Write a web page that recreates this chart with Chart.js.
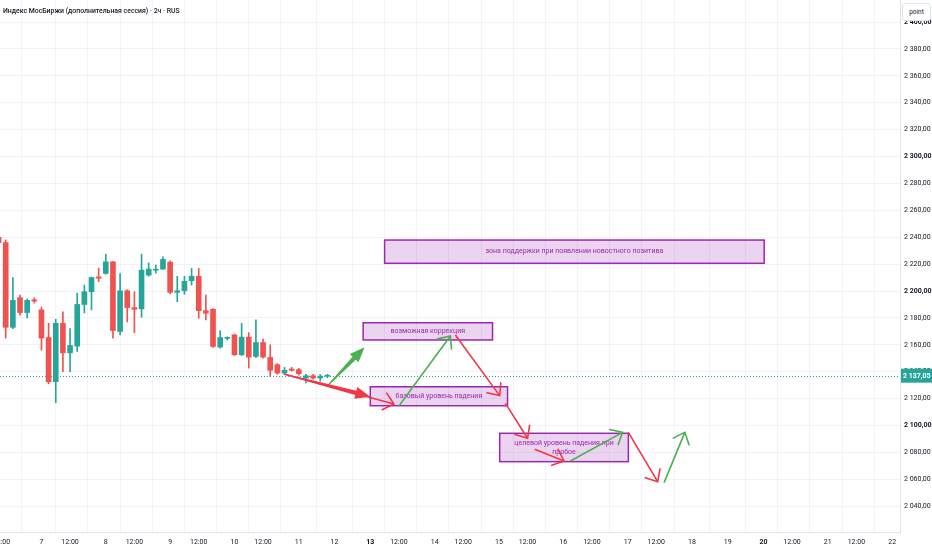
<!DOCTYPE html>
<html><head><meta charset="utf-8">
<script src="https://cdn.jsdelivr.net/npm/chart.js@4.4.0/dist/chart.umd.min.js"></script>
<style>
html,body{margin:0;padding:0;background:#fff;}
#wrap{position:relative;width:932px;height:550px;overflow:hidden;}
#title{position:absolute;left:3px;top:7px;font:500 6.9px Roboto,sans-serif;color:#131722;white-space:nowrap;}
#unit{position:absolute;left:902px;top:3px;width:27px;height:16px;border:1px solid #e0e3eb;border-radius:3px;background:#fff;font:400 6.5px Roboto,sans-serif;color:#131722;text-align:center;line-height:16px;}
</style></head>
<body><div id="wrap"><canvas id="c"></canvas><div id="title">Индекс МосБиржи (дополнительная сессия) · 2ч · RUS</div><div id="unit">point</div></div>
<script>
// ---- data (x = 2h candle slot, y = index points) ----
const firstSlot = -1;
const opens  = [2240,2236,2173,2195,2184,2193.5,2186,2165.4,2132.6,2176,2154,2159,2190,2199.5,2210.5,2213,2221.7,2169.9,2200.2,2187.7,2186.7,2211.8,2215.5,2216.3,2221.5,2199,2200.2,2207.7,2211,2185.4,2186.4,2158.3,2164.8,2167.4,2152.6,2165.7,2151.4,2161.7,2150.6,2145.2,2139,2142,2141.5,2135.3,2137,2135.3,2136.6];
const highs  = [2242,2238,2210,2197,2194,2195,2188,2176,2179,2184.5,2172,2198.5,2204.4,2210.5,2217,2227.4,2222,2213,2201,2199.5,2227.4,2220.9,2219.3,2225.4,2222.5,2211,2211,2216.8,2216.8,2197,2187,2170.6,2166,2168,2176,2169,2178.5,2164.2,2160,2146,2143.2,2143.2,2142.5,2138,2138,2138,2138];
const lows   = [2234,2165,2172,2182,2180,2191,2156,2131,2117,2140,2140,2155,2183.7,2186,2207,2212.5,2165,2167.4,2177,2169,2180.5,2211,2213.3,2216,2198,2192,2197.5,2204.4,2179.7,2178.5,2158,2157.5,2163.5,2152,2152,2142.7,2150.5,2150,2136.5,2138,2138.5,2140.5,2137.5,2131.6,2134.5,2133,2135.5];
const closes = [2236,2173,2193,2184,2193,2192.5,2165,2132.6,2176,2154,2159.5,2190,2199.5,2210,2209.5,2221.7,2170.6,2200.2,2187.7,2186.4,2215.5,2216.3,2216.2,2223.5,2199,2200.2,2207.2,2211,2185.4,2183.5,2158.8,2165.4,2165.2,2152.6,2165.7,2150.9,2161.7,2150.9,2141,2139,2141,2141,2138.5,2137,2135.3,2136.7,2137.05];
const lastPrice = 2137.05;

const tickSlots  = [-0.6,5,9,14,18,23,27,32,36,41,46,51,55,60,64,69,73,78,82,87,91,96,101,106,110,115,119,124];
const tickLabels = ['12:00','7','12:00','8','12:00','9','12:00','10','12:00','11','12','13','12:00','14','12:00','15','12:00','16','12:00','17','12:00','18','19','20','12:00','21','12:00','22'];
const boldTickLabels = ['13','20'];

// annotation boxes (slot / price)
const boxTexts  = ['зона поддержки при появлении новостного позитива','возможная коррекция','базовый уровень падения','целевой уровень падения при\nпробое'];
const boxStart  = [53.0, 50.0, 51.0, 69.1];
const boxEnd    = [106.1, 68.1, 70.2, 87.1];
const boxTop    = [2237.9, 2176.4, 2128.8, 2094.2];
const boxBottom = [2220.6, 2163.6, 2114.7, 2073.1];

// forecast arrows (slot / price)
const arrowKind   = ['up-bold','down-bold','down','up','down','down','down','up','down','up'];
const arrowX0 = [45.0, 38.9, 38.9, 55.0, 62.9, 69.9, 74.0, 79.0, 87.1, 92.1];
const arrowY0 = [2129.4, 2138.3, 2138.3, 2114.5, 2167.3, 2116.5, 2082.3, 2073.6, 2094.9, 2057.5];
const arrowX1 = [50.2, 51.0, 54.3, 62.2, 69.1, 73.0, 78.1, 86.3, 91.2, 95.0];
const arrowY1 = [2158.1, 2121.4, 2116.0, 2166.5, 2122.2, 2090.5, 2073.6, 2094.9, 2058.2, 2094.9];

// ---- styles ----
const UP='#26a69a', DOWN='#ef5350';
const A_UP='#4caf50', A_DOWN='#f23645';
const FONT='Roboto, sans-serif';
const candleColors = opens.map((o,i)=> closes[i]>=o ? UP : DOWN);

function fmt(v){
  const parts = v.toFixed(2).split('.');
  return parts[0].replace(/\B(?=(\d{3})+(?!\d))/g,' ') + ',' + parts[1];
}

const datasets = [
  {type:'bar', data: lows.map((l,i)=>({x:firstSlot+i, y:[l,highs[i]]})), backgroundColor: candleColors, barThickness:1, grouped:false, order:2},
  {type:'bar', data: opens.map((o,i)=>({x:firstSlot+i, y:[o,closes[i]]})), backgroundColor: candleColors, barThickness:5, grouped:false, minBarLength:1, order:1}
];
arrowKind.forEach((k,i)=>{
  const bold = k.endsWith('bold');
  datasets.push({type:'line', data:[{x:arrowX0[i],y:arrowY0[i]},{x:arrowX1[i],y:arrowY1[i]}],
    borderColor: k.startsWith('up')?A_UP:A_DOWN, borderWidth:1.6, showLine: !bold,
    pointRadius:0, pointHoverRadius:0, order:0, arrowKind:k});
});

function arrowHead(ctx,p0,p1,color,bold){
  const ang = Math.atan2(p1.y-p0.y, p1.x-p0.x);
  if(!bold){
    const L=13, s=0.72;
    ctx.strokeStyle=color; ctx.lineWidth=1.6; ctx.lineCap='round';
    ctx.beginPath();
    ctx.moveTo(p1.x-L*Math.cos(ang-s), p1.y-L*Math.sin(ang-s));
    ctx.lineTo(p1.x,p1.y);
    ctx.lineTo(p1.x-L*Math.cos(ang+s), p1.y-L*Math.sin(ang+s));
    ctx.stroke();
  } else {
    const H=15, hw=6;
    const ux=Math.cos(ang), uy=Math.sin(ang), nx=-uy, ny=ux;
    const bx=p1.x-ux*H, by=p1.y-uy*H;
    ctx.fillStyle=color;
    ctx.beginPath();
    ctx.moveTo(p0.x+nx*0.6,p0.y+ny*0.6);
    ctx.lineTo(bx+nx*2.2,by+ny*2.2);
    ctx.lineTo(bx+nx*hw,by+ny*hw);
    ctx.lineTo(p1.x,p1.y);
    ctx.lineTo(bx-nx*hw,by-ny*hw);
    ctx.lineTo(bx-nx*2.2,by-ny*2.2);
    ctx.lineTo(p0.x-nx*0.6,p0.y-ny*0.6);
    ctx.closePath(); ctx.fill();
  }
}

const overlay = {
  id:'overlay',
  beforeDatasetsDraw(chart){
    const {ctx, chartArea:a, scales:{x,y}} = chart;
    ctx.save();
    ctx.beginPath(); ctx.rect(a.left,a.top,a.right-a.left,a.bottom-a.top); ctx.clip();
    const py = Math.round(y.getPixelForValue(lastPrice))+0.5;
    ctx.setLineDash([1,2]); ctx.strokeStyle=UP; ctx.lineWidth=1;
    ctx.beginPath(); ctx.moveTo(a.left,py); ctx.lineTo(a.right,py); ctx.stroke();
    ctx.setLineDash([]);
    boxTexts.forEach((t,i)=>{
      const x0=x.getPixelForValue(boxStart[i]), x1=x.getPixelForValue(boxEnd[i]);
      const y0=y.getPixelForValue(boxTop[i]), y1=y.getPixelForValue(boxBottom[i]);
      ctx.fillStyle='rgba(156,39,176,0.2)'; ctx.fillRect(x0,y0,x1-x0,y1-y0);
      ctx.strokeStyle='#9c27b0'; ctx.lineWidth=1.5; ctx.strokeRect(x0,y0,x1-x0,y1-y0);
      ctx.fillStyle='#9c27b0'; ctx.font='7px '+FONT; ctx.textAlign='center'; ctx.textBaseline='middle';
      const lines=t.split('\n'), lh=9, cx=(x0+x1)/2, cy=(y0+y1)/2 - (lines.length-1)*lh/2;
      lines.forEach((ln,j)=>ctx.fillText(ln,cx,cy+j*lh));
    });
    ctx.restore();
  },
  afterDatasetsDraw(chart){
    const {ctx, chartArea:a, scales:{y}} = chart;
    ctx.save();
    chart.data.datasets.forEach((ds,i)=>{
      if(!ds.arrowKind) return;
      const pts=chart.getDatasetMeta(i).data;
      arrowHead(ctx,pts[0],pts[1], ds.arrowKind.startsWith('up')?A_UP:A_DOWN, ds.arrowKind.endsWith('bold'));
    });
    const py=y.getPixelForValue(lastPrice);
    ctx.fillStyle=UP; ctx.fillRect(a.right+1,py-7,31,14);
    ctx.fillStyle='#fff'; ctx.font='bold 7px '+FONT; ctx.textAlign='left'; ctx.textBaseline='middle';
    ctx.fillText(fmt(lastPrice), a.right+3, py+0.5);
    ctx.restore();
  }
};

new Chart(document.getElementById('c'), {
  data:{datasets},
  options:{
    responsive:true, maintainAspectRatio:false, animation:false,
    layout:{padding:0},
    plugins:{legend:{display:false}, tooltip:{enabled:false}},
    scales:{
      x:{type:'linear', min:-0.8, max:125.1, position:'bottom', offset:false,
        grid:{color:'#f0f3fa', drawTicks:false}, border:{color:'#e0e3eb'},
        afterBuildTicks:(s)=>{ s.ticks = tickSlots.map(v=>({value:v})); },
        afterFit:(s)=>{ s.height=18; s.paddingLeft=0; s.paddingRight=0; },
        ticks:{autoSkip:false, maxRotation:0, minRotation:0, padding:6, color:'#131722',
          callback:(v,i)=>tickLabels[i],
          font:(c)=>({family:FONT, size:7, weight: boldTickLabels.includes(tickLabels[c.index]) ? 'bold':'normal'})}
      },
      y:{type:'linear', position:'right', min:2020.8, max:2416.4,
        grid:{color:'#f0f3fa', drawTicks:false}, border:{color:'#e0e3eb'},
        afterFit:(s)=>{ s.width=32; s.paddingTop=0; s.paddingBottom=0; },
        ticks:{stepSize:20, includeBounds:false, padding:4, color:'#131722',
          callback:(v)=>fmt(v),
          font:(c)=>({family:FONT, size:7, weight: (c.tick && Math.round(c.tick.value)%100===0) ? 'bold':'normal'})}
      }
    }
  },
  plugins:[overlay]
});
</script>
</body></html>
